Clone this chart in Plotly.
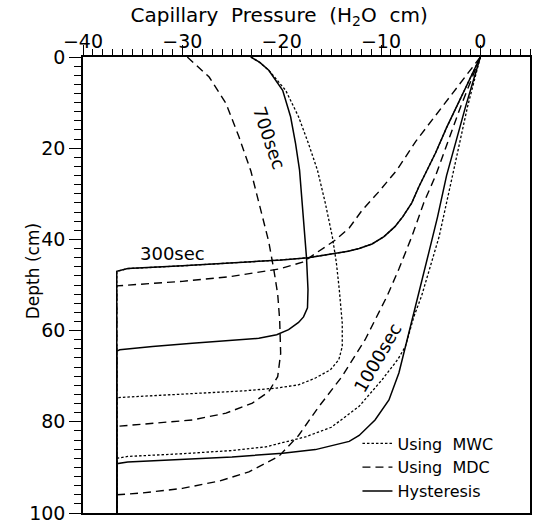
import plotly.graph_objects as go

# ---- data: capillary pressure (H2O cm) vs depth (cm) ----
# 300 sec
hyst_300_p = [0, -1.0, -2.2, -3.4, -4.5, -5.4, -6.2, -6.9, -7.8, -8.6, -9.7, -10.9, -12.2, -13.3, -15.2, -17.3, -20.0, -25.0, -30.0, -35.5, -36.6, -36.6]
hyst_300_d = [0, 4.5, 10.0, 15.5, 21.0, 24.8, 28.5, 32.0, 35.0, 37.2, 39.4, 41.0, 42.0, 42.6, 43.3, 44.0, 44.5, 45.2, 45.8, 46.4, 47.0, 100]
mwc_300_p = [0, -1.0, -2.2, -3.4, -4.5, -5.4, -6.2, -6.9, -7.8, -8.6, -9.7, -10.9, -12.2, -13.3, -15.2, -17.3, -20.0, -25.0, -30.0, -35.5, -36.6, -36.6]
mwc_300_d = [0, 4.5, 10.0, 15.5, 21.0, 24.8, 28.5, 32.0, 35.0, 37.2, 39.4, 41.0, 42.0, 42.6, 43.3, 44.0, 44.5, 45.2, 45.8, 46.4, 47.0, 100]
mdc_300_p = [0, -4.0, -6.5, -8.4, -10.2, -11.9, -13.2, -14.7, -16.9, -17.9, -20.3, -25.3, -30.0, -35.5, -36.6, -36.6]
mdc_300_d = [0, 11.5, 18.5, 24.8, 29.5, 33.6, 37.5, 40.3, 43.6, 45.0, 46.5, 48.2, 49.2, 50.0, 50.2, 100]

# 700 sec
hyst_700_p = [-23.1, -22.2, -21.3, -19.9, -19.1, -18.6, -18.2, -17.8, -17.5, -17.35, -17.4, -17.8, -18.3, -19.3, -20.5, -22.3, -25.0, -29.0, -33.0, -36.3, -36.6, -36.6]
hyst_700_d = [0, 1.2, 2.9, 7.3, 13.1, 19.0, 24.8, 35.8, 44.0, 51.0, 55.0, 57.0, 58.2, 59.8, 60.9, 61.7, 62.2, 62.8, 63.5, 64.2, 64.5, 100]
mwc_700_p = [-23.1, -22.2, -21.3, -19.6, -18.3, -17.3, -16.4, -15.6, -14.9, -14.5, -14.2, -13.9, -13.9, -14.25, -15.1, -16.6, -18.3, -20.5, -23.7, -28.0, -33.0, -36.6, -36.6]
mwc_700_d = [0, 1.2, 2.9, 7.3, 13.1, 19.0, 24.8, 32.1, 39.4, 45.0, 51.0, 58.4, 63.5, 66.4, 68.6, 70.4, 71.9, 72.6, 73.2, 73.7, 74.2, 74.7, 100]
mdc_700_p = [-29.5, -28.4, -27.3, -25.6, -24.3, -23.1, -22.2, -21.3, -20.8, -20.4, -20.2, -20.1, -20.4, -21.3, -22.95, -25.6, -29.0, -33.0, -36.6, -36.6]
mdc_700_d = [0, 2.2, 4.4, 10.2, 17.5, 25.0, 32.5, 40.5, 46.5, 52.0, 57.7, 65.0, 70.1, 73.4, 75.9, 78.1, 79.6, 80.4, 81.0, 100]

# 1000 sec
hyst_1000_p = [0, -1.5, -3.4, -4.3, -5.2, -6.2, -6.9, -7.55, -8.2, -9.2, -10.6, -12.2, -13.2, -16.6, -19.9, -25.0, -30.0, -35.5, -36.6, -36.6]
hyst_1000_d = [0, 11.0, 26.0, 35.0, 43.0, 51.8, 57.7, 63.5, 69.3, 75.2, 79.6, 83.0, 84.3, 86.1, 86.9, 87.7, 88.3, 88.8, 89.2, 100]
mwc_1000_p = [0, -1.3, -2.8, -4.15, -5.9, -6.7, -7.55, -8.3, -9.9, -12.2, -15.0, -17.6, -21.6, -25.0, -30.0, -35.5, -36.6, -36.6]
mwc_1000_d = [0, 11.0, 26.0, 39.4, 52.3, 57.0, 63.5, 66.3, 70.8, 76.6, 81.2, 83.3, 85.5, 86.3, 87.0, 87.6, 88.0, 100]
mdc_1000_p = [0, -2.0, -4.5, -5.7, -6.9, -8.2, -9.4, -11.6, -13.9, -16.3, -18.3, -20.3, -23.3, -26.3, -30.0, -34.0, -36.6, -36.6]
mdc_1000_d = [0, 11.0, 26.0, 32.0, 39.4, 46.5, 52.5, 62.0, 70.0, 76.8, 83.0, 87.6, 91.0, 93.0, 94.6, 95.6, 96.0, 100]

legend_names = ["Using\u00a0\u00a0MWC", "Using\u00a0\u00a0MDC", "Hysteresis"]
time_labels = ["300sec", "700sec", "1000sec"]
x_ticks = [-40, -30, -20, -10, 0]
y_ticks = [0, 20, 40, 60, 80, 100]

FONT = "DejaVu Sans"
styles = {
    "mwc": dict(color="black", width=1.3, dash="2.5px,2px"),
    "mdc": dict(color="black", width=1.4, dash="8px,5px"),
    "hyst": dict(color="black", width=1.5, dash="solid"),
}

fig = go.Figure()
series = [
    ("mwc", mwc_300_p, mwc_300_d, True, legend_names[0]),
    ("mwc", mwc_700_p, mwc_700_d, False, legend_names[0]),
    ("mwc", mwc_1000_p, mwc_1000_d, False, legend_names[0]),
    ("mdc", mdc_300_p, mdc_300_d, True, legend_names[1]),
    ("mdc", mdc_700_p, mdc_700_d, False, legend_names[1]),
    ("mdc", mdc_1000_p, mdc_1000_d, False, legend_names[1]),
    ("hyst", hyst_300_p, hyst_300_d, True, legend_names[2]),
    ("hyst", hyst_700_p, hyst_700_d, False, legend_names[2]),
    ("hyst", hyst_1000_p, hyst_1000_d, False, legend_names[2]),
]
for key, xs, ys, show, name in series:
    fig.add_trace(go.Scatter(
        x=xs, y=ys, mode="lines", line=dict(**styles[key]),
        name=name, legendgroup=key, showlegend=show,
    ))

fig.add_annotation(x=-31.0, y=43.2, text=time_labels[0], showarrow=False,
                   font=dict(family=FONT, size=18, color="black"))
fig.add_annotation(x=-21.2, y=17.8, text=time_labels[1], showarrow=False, textangle=71,
                   font=dict(family=FONT, size=18, color="black"))
fig.add_annotation(x=-10.3, y=66.0, text=time_labels[2], showarrow=False, textangle=-60,
                   font=dict(family=FONT, size=18, color="black"))
fig.add_annotation(xref="paper", yref="paper", x=-0.112, y=0.53, text="Depth (cm)",
                   textangle=-90, showarrow=False, xanchor="center", yanchor="middle",
                   font=dict(family=FONT, size=17, color="black"))

fig.update_layout(
    width=543, height=524,
    margin=dict(l=83, r=13, t=57, b=11, autoexpand=False),
    paper_bgcolor="white", plot_bgcolor="white",
    font=dict(family=FONT, size=18, color="black"),
    title=dict(text="Capillary\u00a0 Pressure\u00a0 (H<sub>2</sub>O\u00a0 cm)", x=0.514, xref="container",
               xanchor="center", y=0.972, yref="container", yanchor="middle",
               font=dict(family=FONT, size=20, color="black")),
    showlegend=True,
    legend=dict(x=0.614, xanchor="left", y=0.01, yanchor="bottom", bgcolor="rgba(0,0,0,0)",
                font=dict(family=FONT, size=16, color="black"), tracegroupgap=0),
    xaxis=dict(side="top", range=[-40, 5], tickvals=x_ticks, ticks="outside", ticklen=10,
               tickwidth=1.3, tickcolor="black", showline=True, linecolor="black", linewidth=1.5,
               mirror=True, showgrid=False, zeroline=False, automargin=False,
               minor=dict(dtick=1, ticks="outside", ticklen=6, tickwidth=1, tickcolor="black", showgrid=False),
               tickfont=dict(family=FONT, size=19, color="black"), ticklabelstandoff=-10),
    yaxis=dict(range=[100, 0], tickvals=y_ticks, ticks="outside", ticklen=12,
               tickwidth=1.3, tickcolor="black", showline=True, linecolor="black", linewidth=1.5,
               mirror=True, showgrid=False, zeroline=False, automargin=False,
               minor=dict(dtick=2, ticks="outside", ticklen=7, tickwidth=1, tickcolor="black", showgrid=False),
               tickfont=dict(family=FONT, size=19, color="black"), ticklabelstandoff=0),
)

fig.write_html("out.html", config={"displayModeBar": False},
               post_script="document.body.style.margin='0px';")
